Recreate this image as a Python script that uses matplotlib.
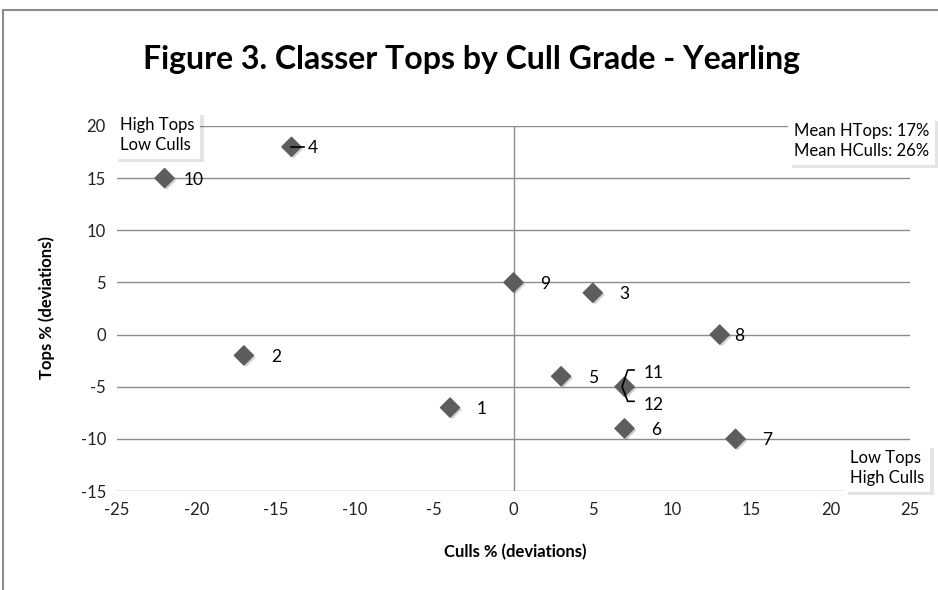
import matplotlib.pyplot as plt
import matplotlib.patheffects as pe
from matplotlib.patches import Rectangle

# ── Data ──────────────────────────────────────────────────────────────────────
labels = ["1", "2", "3", "4", "5", "6", "7", "8", "9", "10", "11/12"]
culls  = [-4, -17, 5, -14, 3, 7, 14, 13, 0, -22, 7]
tops   = [-7, -2, 4, 18, -4, -9, -10, 0, 5, 15, -5]

x_ticks = [-25, -20, -15, -10, -5, 0, 5, 10, 15, 20, 25]
y_ticks = [-15, -10, -5, 0, 5, 10, 15, 20]

plt.rcParams["font.family"] = ["Lato", "DejaVu Sans"]
plt.rcParams["axes.unicode_minus"] = False

fig = plt.figure(figsize=(9.38, 5.9), dpi=100)
ax = fig.add_axes([117 / 938, 1 - 491 / 590, (910 - 117) / 938, (491 - 126) / 590])

# outer chart border
fig.patches.append(Rectangle((3 / 938, -0.01), 1.0, 1 - 10 / 590 + 0.01,
                             transform=fig.transFigure, fill=False,
                             edgecolor="#8c8c8c", linewidth=1.5))

ax.set_xlim(-25, 25)
ax.set_ylim(-15, 20)
ax.set_xticks(x_ticks)
ax.set_yticks(y_ticks)
ax.tick_params(length=0, labelsize=12, colors="#222222", pad=8)
for y in y_ticks:
    ax.axhline(y, color="#8c8c8c", linewidth=1, zorder=1)
ax.axvline(0, color="#8c8c8c", linewidth=1, zorder=1)
for s in ax.spines.values():
    s.set_visible(False)

shadow = [pe.SimplePatchShadow(offset=(1.5, -1.5), alpha=0.2), pe.Normal()]
ax.scatter(culls, tops, marker="D", s=95, color="#5d5d5d", zorder=5,
           path_effects=shadow)

# point labels
offsets = {"4": (1.0, 0), "10": (1.2, 0), "8": (0.9, 0)}
for lab, x, y in zip(labels, culls, tops):
    if lab == "11/12":
        continue
    dx, dy = offsets.get(lab, (1.7, 0))
    ax.text(x + dx, y + dy, lab, fontsize=12.5, va="center_baseline", ha="left", zorder=6)

# leader line for 4
ax.plot([-14, -13.2], [18, 18], color="black", linewidth=1.2, zorder=6)
# bracket for 11 / 12
ax.plot([7.6, 7.2, 6.85, 7.2, 7.6], [-3.4, -3.4, -5, -6.4, -6.4],
        color="black", linewidth=1.2, zorder=6)
ax.text(8.2, -3.5, "11", fontsize=12.5, va="center_baseline", ha="left", zorder=6)
ax.text(8.2, -6.6, "12", fontsize=12.5, va="center_baseline", ha="left", zorder=6)

box = dict(boxstyle="square,pad=0.35", facecolor="white", edgecolor="none",
           path_effects=[pe.SimplePatchShadow(offset=(2.5, -2.5), alpha=0.15), pe.Normal()])
fig.text(120 / 938, 1 - 135 / 590, "High Tops\nLow Culls", fontsize=12,
         va="center", ha="left", bbox=box, linespacing=1.3)
fig.text(794 / 938, 1 - 141 / 590, "Mean HTops: 17%\nMean HCulls: 26%", fontsize=12,
         va="center", ha="left", bbox=box, linespacing=1.3)
fig.text(850 / 938, 1 - 468 / 590, "Low Tops\nHigh Culls", fontsize=12,
         va="center", ha="left", bbox=box, linespacing=1.3)

fig.text(471 / 938, 1 - 60 / 590, "Figure 3. Classer Tops by Cull Grade - Yearling",
         fontsize=23, fontweight="bold", ha="center", va="center")
fig.text(515 / 938, 1 - 552 / 590, "Culls % (deviations)", fontsize=12,
         fontweight="bold", ha="center", va="center")
fig.text(47 / 938, 1 - 308 / 590, "Tops % (deviations)", fontsize=12,
         fontweight="bold", ha="center", va="center", rotation=90)

fig.savefig("out.png", dpi=100)
